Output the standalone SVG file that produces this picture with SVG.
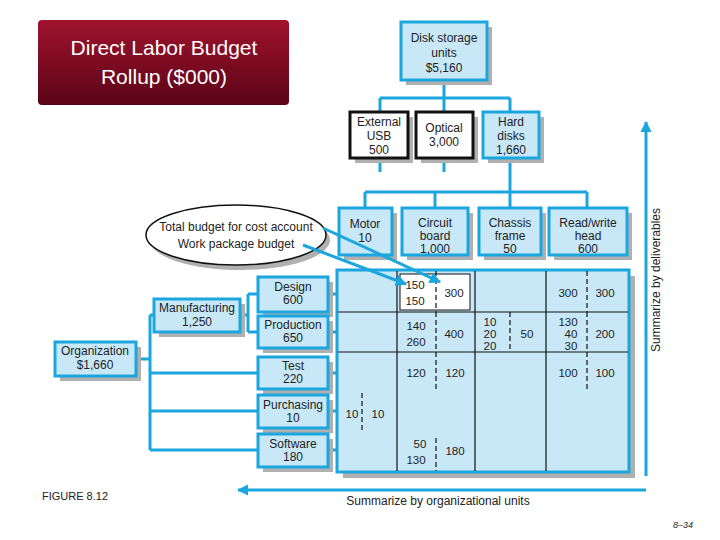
<svg xmlns="http://www.w3.org/2000/svg" width="720" height="540" viewBox="0 0 720 540">
<defs>
<linearGradient id="rg" x1="0" y1="0" x2="0" y2="1"><stop offset="0" stop-color="#a0122e"/><stop offset="1" stop-color="#5a0416"/></linearGradient>
<marker id="ah" viewBox="0 0 10 10" refX="9" refY="5" markerWidth="3.8" markerHeight="3.8" orient="auto"><path d="M0,0 L10,5 L0,10 z" fill="#1ba6dd"/></marker>
</defs>
<style>
text{font-family:"Liberation Sans",Arial,sans-serif;font-size:12px;fill:#222;text-anchor:middle}
.b{fill:#c8e8f8;stroke:#1ba6dd;stroke-width:3}
.w{fill:#fff;stroke:#111;stroke-width:3}
.sh{fill:#b0b0b0}
.c{stroke:#1ba6dd;stroke-width:3;fill:none}
.g{stroke:#111;stroke-width:1.2}
.d{stroke:#111;stroke-width:1.2;stroke-dasharray:5,3}
.n{font-size:11.5px}
</style>
<rect x="38" y="20" width="251" height="85" rx="4" fill="url(#rg)"/>
<text x="164" y="55" style="fill:#fff;font-size:21px">Direct Labor Budget</text>
<text x="164" y="84" style="fill:#fff;font-size:21px">Rollup ($000)</text>

<g id="connectors">
<path class="c" d="M444,80 V98 M380,98 H510 M380,98 V112 M444,98 V112 M510,98 V112 M380,158 V172 M444,158 V172 M510,158 V192 M365,192 H587 M365,192 V208 M435,192 V208 M510,192 V208 M587,192 V208"/>
<path class="c" d="M136,359 H150 M150,315 V450 M150,315 H154 M150,373 H258 M150,411 H258 M150,450 H258 M240,315 H248 M248,294 V332 M248,294 H258 M248,332 H258"/>
<path class="c" d="M328,294 H337 M328,332 H337 M328,373 H337 M328,411 H337 M328,450 H337"/>
<path class="c" d="M646,476 V122" marker-end="url(#ah)"/>
<path class="c" d="M646,490 H238" marker-end="url(#ah)"/>
</g>

<g id="disk"><rect class="sh" x="406" y="27" width="86" height="58"/><rect class="b" x="401" y="22" width="86" height="58"/><text x="444" y="42">Disk storage</text><text x="444" y="57">units</text><text x="444" y="72">$5,160</text></g>
<g id="usb"><rect class="sh" x="355" y="117" width="58" height="46"/><rect class="w" x="350" y="112" width="58" height="46"/><text x="379" y="126">External</text><text x="379" y="140">USB</text><text x="379" y="154">500</text></g>
<g id="optical"><rect class="sh" x="421" y="117" width="57" height="46"/><rect class="w" x="416" y="112" width="57" height="46"/><text x="444" y="132">Optical</text><text x="444" y="146">3,000</text></g>
<g id="hard"><rect class="sh" x="488" y="117" width="56" height="46"/><rect class="b" x="483" y="112" width="56" height="46"/><text x="511" y="126">Hard</text><text x="511" y="140">disks</text><text x="511" y="154">1,660</text></g>
<g id="motor"><rect class="sh" x="344" y="213" width="53" height="47"/><rect class="b" x="339" y="208" width="53" height="47"/><text x="365" y="228">Motor</text><text x="365" y="242">10</text></g>
<g id="circuit"><rect class="sh" x="407" y="213" width="66" height="47"/><rect class="b" x="402" y="208" width="66" height="47"/><text x="435" y="227">Circuit</text><text x="435" y="240">board</text><text x="435" y="253">1,000</text></g>
<g id="chassis"><rect class="sh" x="484" y="213" width="62" height="47"/><rect class="b" x="479" y="208" width="62" height="47"/><text x="510" y="227">Chassis</text><text x="510" y="240">frame</text><text x="510" y="253">50</text></g>
<g id="rw"><rect class="sh" x="554" y="213" width="78" height="47"/><rect class="b" x="549" y="208" width="78" height="47"/><text x="588" y="227">Read/write</text><text x="588" y="240">head</text><text x="588" y="253">600</text></g>

<g id="ellipse"><ellipse cx="240" cy="240" rx="90" ry="30" fill="#b0b0b0"/><ellipse cx="236" cy="235" rx="90" ry="30" fill="#fff" stroke="#111" stroke-width="1.5"/><text x="236" y="231">Total budget for cost account</text><text x="236" y="248">Work package budget</text></g>

<g id="design"><rect class="sh" x="263" y="282" width="70" height="35"/><rect class="b" x="258" y="277" width="70" height="35"/><text x="293" y="291">Design</text><text x="293" y="304">600</text></g>
<g id="production"><rect class="sh" x="263" y="321" width="70" height="32"/><rect class="b" x="258" y="316" width="70" height="32"/><text x="293" y="329">Production</text><text x="293" y="342">650</text></g>
<g id="test"><rect class="sh" x="263" y="362" width="70" height="32"/><rect class="b" x="258" y="357" width="70" height="32"/><text x="293" y="370">Test</text><text x="293" y="383">220</text></g>
<g id="purchasing"><rect class="sh" x="263" y="400" width="70" height="33"/><rect class="b" x="258" y="395" width="70" height="33"/><text x="293" y="409">Purchasing</text><text x="293" y="422">10</text></g>
<g id="software"><rect class="sh" x="263" y="439" width="70" height="33"/><rect class="b" x="258" y="434" width="70" height="33"/><text x="293" y="448">Software</text><text x="293" y="461">180</text></g>
<g id="manufacturing"><rect class="sh" x="159" y="304" width="86" height="33"/><rect class="b" x="154" y="299" width="86" height="33"/><text x="197" y="312">Manufacturing</text><text x="197" y="326">1,250</text></g>
<g id="organization"><rect class="sh" x="60" y="347" width="81" height="34"/><rect class="b" x="55" y="342" width="81" height="34"/><text x="95" y="355">Organization</text><text x="95" y="369">$1,660</text></g>

<g id="grid">
<rect class="sh" x="343" y="276" width="292" height="202"/>
<rect class="b" x="337" y="270" width="292" height="202"/>
<rect x="400" y="274" width="70" height="36" fill="#fff" stroke="#111" stroke-width="1"/>
<path class="g" d="M397,271 V471 M475,271 V471 M546,271 V471 M338,312 H628 M338,352 H628"/>
<path class="d" d="M436,271 V312 M436,312 V352 M436,352 V392 M436,438 V471 M510,312 V352 M587,271 V312 M587,312 V352 M587,352 V392 M362,393 V432"/>
<text class="n" x="415" y="289">150</text><text class="n" x="415" y="305">150</text><text class="n" x="454" y="297">300</text>
<text class="n" x="568" y="297">300</text><text class="n" x="605" y="297">300</text>
<text class="n" x="416" y="330">140</text><text class="n" x="416" y="346">260</text><text class="n" x="454" y="338">400</text>
<text class="n" x="490" y="326">10</text><text class="n" x="490" y="338">20</text><text class="n" x="490" y="350">20</text><text class="n" x="527" y="338">50</text>
<text class="n" x="568" y="326">130</text><text class="n" x="571" y="338">40</text><text class="n" x="571" y="350">30</text><text class="n" x="605" y="338">200</text>
<text class="n" x="416" y="377">120</text><text class="n" x="455" y="377">120</text><text class="n" x="568" y="377">100</text><text class="n" x="605" y="377">100</text>
<text class="n" x="352" y="418">10</text><text class="n" x="378" y="418">10</text>
<text class="n" x="420" y="448">50</text><text class="n" x="416" y="464">130</text><text class="n" x="455" y="455">180</text>
</g>

<g id="callout-arrows">
<path class="c" d="M323,228 L440,282" marker-end="url(#ah)"/>
<path class="c" d="M303,245 L406,284" marker-end="url(#ah)"/>
</g>

<text x="660" y="280" transform="rotate(-90 660 280)">Summarize by deliverables</text>
<text x="438" y="505">Summarize by organizational units</text>
<text x="42" y="500" style="text-anchor:start;font-size:11px">FIGURE 8.12</text>
<text x="693" y="528" style="text-anchor:end;font-size:9px;font-style:italic">8–34</text>
</svg>
